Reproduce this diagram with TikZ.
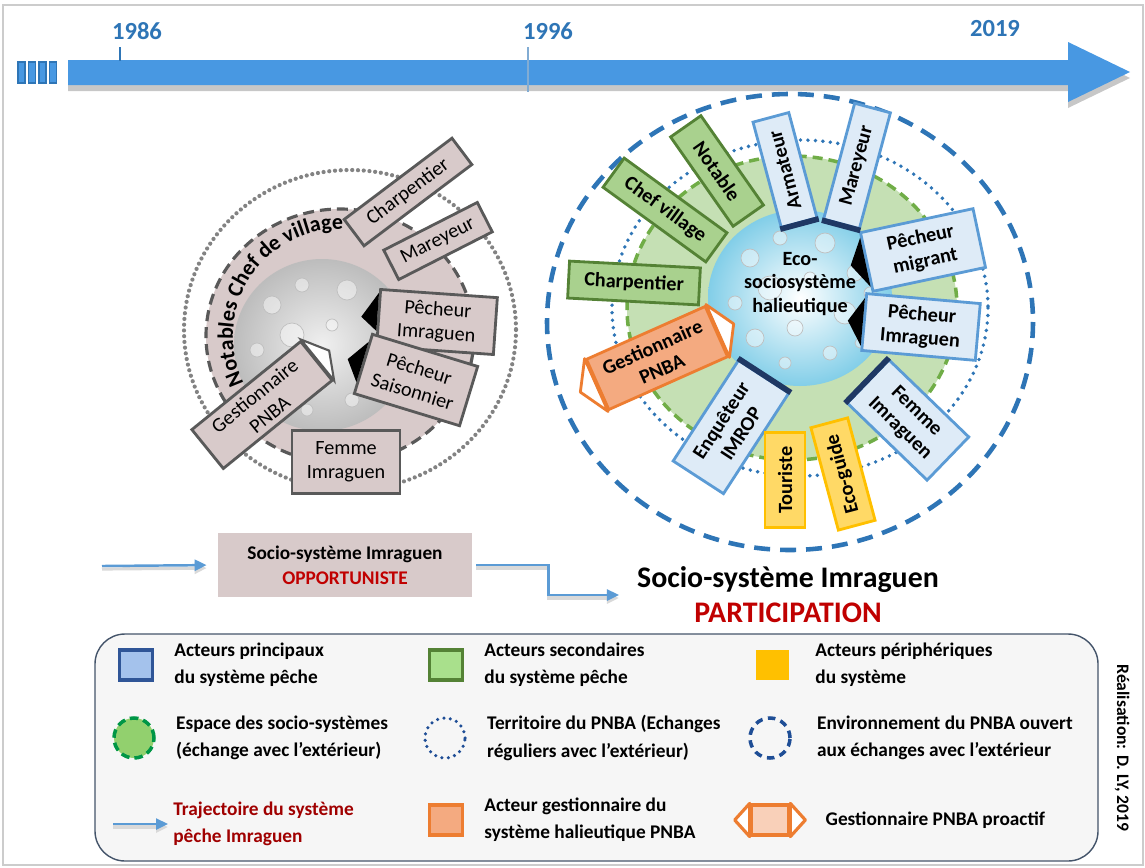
\documentclass[tikz,border=0pt]{standalone}
\usepackage{fontspec}
\setmainfont{Carlito}
\usetikzlibrary{positioning,arrows.meta,calc,decorations.text}

\definecolor{tlblue}{RGB}{72,152,226}
\definecolor{yearblue}{RGB}{46,117,182}
\definecolor{rosegray}{RGB}{216,202,202}
\definecolor{boxgray}{RGB}{89,89,89}
\definecolor{mainfill}{RGB}{222,235,247}
\definecolor{mainblue}{RGB}{91,155,213}
\definecolor{navy}{RGB}{31,56,100}
\definecolor{secfill}{RGB}{169,209,142}
\definecolor{secgreen}{RGB}{84,130,53}
\definecolor{perifill}{RGB}{255,217,102}
\definecolor{perigold}{RGB}{255,192,0}
\definecolor{orfill}{RGB}{244,170,128}
\definecolor{orline}{RGB}{237,125,49}
\definecolor{espfill}{RGB}{197,224,180}
\definecolor{espline}{RGB}{112,173,71}
\definecolor{pnbablue}{RGB}{46,117,182}
\definecolor{darkred}{RGB}{192,0,0}
\definecolor{trajred}{RGB}{160,0,0}
\definecolor{trajblue}{RGB}{91,155,213}
\definecolor{legfill}{RGB}{246,246,246}
\definecolor{legline}{RGB}{68,84,106}
\definecolor{legblue}{RGB}{47,85,151}
\definecolor{legbluefill}{RGB}{164,194,236}
\definecolor{leggreen}{RGB}{84,130,53}
\definecolor{leggreenfill}{RGB}{169,224,140}
\definecolor{legdash}{RGB}{0,150,70}
\definecolor{legdashfill}{RGB}{146,208,110}
\definecolor{legdark}{RGB}{31,78,150}
\definecolor{ecofill}{RGB}{130,206,232}

\newcommand\actorfont{\fontsize{11.5}{13.5}\selectfont}
\newcommand\legfont{\fontsize{11}{15.5}\selectfont\bfseries}

\begin{document}
\begin{tikzpicture}[x=0.2mm, y=-0.2mm,
  actor/.style={line width=1.6pt, minimum height=7.4mm, inner sep=1.5pt,
    align=center, font=\actorfont\bfseries},
  oldbox/.style={actor, draw=boxgray, fill=rosegray, font=\actorfont},
  mainbox/.style={actor, draw=mainblue, fill=mainfill},
  secbox/.style={actor, draw=secgreen, fill=secfill},
  peribox/.style={actor, draw=perigold, fill=perifill},
  gestbox/.style={actor, draw=orline, fill=orfill},
  navybar/.style={draw=navy, line width=3.2pt},
  notch/.style={fill=black},
  year/.style={font=\fontsize{14}{16}\selectfont\bfseries, text=yearblue},
  traj/.style={draw=trajblue, line width=1.4pt, -{Triangle[length=2.4mm,width=2.2mm]},
    preaction={draw=black!15, line width=1.8pt, transform canvas={yshift=-0.6mm}}},
  legtext/.style={align=left, font=\legfont, inner sep=0pt},
  legicon/.style={minimum width=6.6mm, minimum height=6mm, inner sep=0pt, line width=1.8pt}]

  \useasboundingbox (0,0) rectangle (1145,867);
  \draw[black!20, line width=0.8pt] (3,5) rectangle (1143,865);

  % time line
  \fill[black!22] (68,66) -- (1068,66) -- (1068,48) -- (1130,78) -- (1068,108)
    -- (1068,91) -- (68,91) -- cycle;
  \fill[tlblue] (68,60) -- (1068,60) -- (1068,42) -- (1130,72) -- (1068,102)
    -- (1068,85) -- (68,85) -- cycle;
  \foreach \i in {0,...,3}
    \draw[line width=0.6pt, draw=yearblue, fill=tlblue] (18+10.5*\i,62) rectangle ++(7,21);
  \node[year] (y1986) at (137,31) {1986};
  \node[year] (y1996) at (548,31) {1996};
  \node[year] (y2019) at (995,29) {2019};
  \draw[yearblue, line width=0.8pt] (120,47) -- (120,61);
  \draw[yearblue!60, line width=0.8pt] (528,47) -- (528,92);

  % socio-systeme opportuniste
  \coordinate (lc) at (340,336);
  \draw[boxgray!75, line width=2.4pt, dash pattern=on 0pt off 1.15mm, line cap=round]
    (350,330) ellipse[x radius=166, y radius=160];
  \draw[boxgray, fill=rosegray, line width=1.8pt, dash pattern=on 2.2mm off 1.2mm]
    (lc) ellipse[x radius=134, y radius=127];
  \shade[inner color=black!6, outer color=black!26] (322,345) ellipse[x radius=88, y radius=86];
  \path[decorate, decoration={text along path,
      text={|\fontsize{12.5}{12.5}\selectfont\bfseries|Notables Chef de village}}]
    (lc) ++(154:107) arc[start angle=154, end angle=292, radius=107];

  % socio-systeme participation
  \draw[pnbablue, line width=2.6pt, dash pattern=on 3.2mm off 2mm]
    (790,322) ellipse[x radius=243, y radius=228];
  \draw[pnbablue, line width=2.2pt, dash pattern=on 0pt off 1.5mm, line cap=round]
    (800,308) ellipse[x radius=188, y radius=168];
  \draw[espline, fill=espfill, line width=2pt, dash pattern=on 2mm off 1.2mm]
    (792,308) ellipse[x radius=165, y radius=152];
  \shade[inner color=white, outer color=ecofill] (800,298) ellipse[x radius=92, y radius=88];

  % bubbles
  \foreach \cx/\cy in {322/345, 800/298}
    \foreach \dx/\dy/\r in {-50/-40/9, -20/-60/7, 25/-55/10, 55/-25/8, -65/5/7, -30/-10/12,
        10/-20/6, 45/15/11, -45/40/9, -5/30/8, 30/55/7, 60/45/5, -15/65/6, 70/-5/6}
      \draw[black!25, fill=white, fill opacity=0.45, line width=0.4pt]
        ($(\cx,\cy)+(\dx,\dy)$) circle[radius=\r];
  \node[font=\actorfont\bfseries, align=center] (eco) at (800,284) {Eco-\\sociosystème\\halieutique};

  % acteurs 1986
  \node[oldbox, rotate=37, minimum width=27mm, minimum height=6.6mm] (oCharp) at (408,192) {Charpentier};
  \node[oldbox, rotate=27, minimum width=21mm, minimum height=6.6mm] (oMarey) at (438,241) {Mareyeur};
  \node[oldbox, rotate=-4, minimum width=23.4mm, minimum height=11.4mm] (oImrag) at (437,322) {Pêcheur\\Imraguen};
  \node[oldbox, rotate=-17, minimum width=22mm, minimum height=12.4mm] (oSaison) at (416,380) {Pêcheur\\Saisonnier};
  \node[oldbox, minimum width=21.6mm, minimum height=12.6mm] (oFemme) at (346,462) {Femme\\Imraguen};
  \node[oldbox, rotate=39, minimum width=28mm, minimum height=10mm] (oGest) at (262,405) {Gestionnaire\\PNBA};
  \fill[notch] ($(oImrag.north west)!0.08!(oImrag.south west)$) -- ($(oImrag.west)!-3.2mm!(oImrag.east)$)
    -- ($(oImrag.north west)!0.72!(oImrag.south west)$) -- cycle;
  \fill[notch] ($(oSaison.north west)!0.15!(oSaison.south west)$) -- ($(oSaison.west)!-3mm!(oSaison.east)$)
    -- ($(oSaison.north west)!0.8!(oSaison.south west)$) -- cycle;
  \draw[boxgray, line width=1.2pt, fill=white] (oGest.north east)
    -- ($(oGest.east)!-3mm!(oGest.west)$) -- (oGest.south east) -- cycle;

  % acteurs 2019
  \node[secbox, rotate=-55, minimum width=21.8mm] (rNotab) at (717,171) {Notable};
  \node[secbox, rotate=-36, minimum width=25.4mm, minimum height=7.2mm] (rChef) at (665,210) {Chef village};
  \node[secbox, rotate=-3, minimum width=26.2mm] (rCharp) at (634,283) {Charpentier};
  \node[mainbox, rotate=105, minimum width=21.8mm] (rArmat) at (785,170) {Armateur};
  \node[mainbox, rotate=75, minimum width=24mm] (rMarey) at (857,166) {Mareyeur};
  \node[mainbox, rotate=12, minimum width=23mm, minimum height=12mm] (rMigr) at (923,250) {Pêcheur\\migrant};
  \node[mainbox, rotate=-5, minimum width=22.8mm, minimum height=11.4mm] (rImrag) at (921,327) {Pêcheur\\Imraguen};
  \node[mainbox, rotate=-44, minimum width=22.2mm, minimum height=12mm] (rFemme) at (908,420) {Femme\\Imraguen};
  \node[mainbox, rotate=57, minimum width=24mm, minimum height=12mm] (rEnq) at (731,427) {Enquêteur\\IMROP};
  \node[peribox, rotate=90, minimum width=19mm, minimum height=8mm] (rTour) at (785,480) {Touriste};
  \node[peribox, rotate=105, minimum width=21.2mm, minimum height=7.6mm] (rGuide) at (843,474) {Eco-guide};
  \node[gestbox, rotate=24, minimum width=26mm, minimum height=11mm] (rGest) at (657,358) {Gestionnaire\\PNBA};
  \draw[navybar] (rArmat.south west) -- (rArmat.north west);
  \draw[navybar] (rMarey.south west) -- (rMarey.north west);
  \draw[navybar] (rFemme.south west) -- (rFemme.north west);
  \draw[navybar] (rEnq.south east) -- (rEnq.north east);
  \fill[notch] ($(rMigr.north west)!0.1!(rMigr.south west)$) -- ($(rMigr.west)!-3mm!(rMigr.east)$)
    -- ($(rMigr.north west)!0.9!(rMigr.south west)$) -- cycle;
  \fill[notch] ($(rImrag.north west)!0.1!(rImrag.south west)$) -- ($(rImrag.west)!-3mm!(rImrag.east)$)
    -- ($(rImrag.north west)!0.9!(rImrag.south west)$) -- cycle;
  \draw[orline, line width=1.6pt, fill=white, line join=round] (rGest.north east)
    -- ($(rGest.east)!-3.5mm!(rGest.west)$) -- (rGest.south east) -- cycle;
  \draw[orline, line width=1.6pt, fill=white, line join=round] (rGest.north west)
    -- ($(rGest.west)!-3.5mm!(rGest.east)$) -- (rGest.south west) -- cycle;

  % trajectoire
  \coordinate (trajStart) at (102,566);
  \node[fill=rosegray, minimum width=50.8mm, minimum height=12.8mm, align=center,
    font=\fontsize{11}{14}\selectfont\bfseries] (opp) at (345,565)
    {Socio-système Imraguen\\\textcolor{darkred}{OPPORTUNISTE}};
  \draw[traj, shorten >=2.2mm] (trajStart) -- (opp.west);
  \node[align=center, font=\fontsize{17}{20}\selectfont\bfseries] (partic) at (788,595)
    {Socio-système Imraguen\\\textcolor{darkred}{PARTICIPATION}};
  \draw[traj, shorten <=0.8mm, shorten >=2.4mm] (opp.east) -- ++(76,0) |- (partic.west);

  % legende
  \draw[legline, fill=legfill, line width=0.8pt, rounded corners=6mm] (95,634) rectangle (1098,861);
  \node[legicon, draw=legblue, fill=legbluefill] (icMain) at (136,665) {};
  \node[legtext, right=4mm of icMain] (lgMain) {Acteurs principaux\\du système pêche};
  \node[legicon, draw=leggreen, fill=leggreenfill] (icSec) at (446,665) {};
  \node[legtext, right=4mm of icSec] (lgSec) {Acteurs secondaires\\du système pêche};
  \node[legicon, fill=perigold] (icPeri) at (772,665) {};
  \node[legtext, right=5mm of icPeri] (lgPeri) {Acteurs périphériques\\du système};
  \node[circle, minimum size=8mm, inner sep=0pt, draw=legdash, fill=legdashfill, line width=2pt,
    dash pattern=on 1.7mm off 1mm] (icEsp) at (134,738) {};
  \node[legtext, right=4mm of icEsp] (lgEsp) {Espace des socio-systèmes\\(échange avec l’extérieur)};
  \node[circle, minimum size=8mm, inner sep=0pt, draw=legdark, line width=2pt,
    dash pattern=on 0pt off 1.3mm, line cap=round] (icTerr) at (445,738) {};
  \node[legtext, right=4mm of icTerr] (lgTerr) {Territoire du PNBA (Echanges\\réguliers avec l’extérieur)};
  \node[circle, minimum size=8mm, inner sep=0pt, draw=legdark, line width=2pt,
    dash pattern=on 1.5mm off 1.1mm] (icEnv) at (770,738) {};
  \node[legtext, right=5mm of icEnv] (lgEnv) {Environnement du PNBA ouvert\\aux échanges avec l’extérieur};
  \coordinate (icTrajA) at (113,824);
  \coordinate (icTrajB) at (168,824);
  \draw[traj] (icTrajA) -- (icTrajB);
  \node[legtext, text=trajred, right=1mm of icTrajB] (lgTraj) {Trajectoire du système\\pêche Imraguen};
  \node[legicon, draw=orline, fill=orfill] (icGest) at (446,820) {};
  \node[legtext, right=4mm of icGest] (lgGest) {Acteur gestionnaire du\\système halieutique PNBA};
  \node[legicon, draw=orline, fill=orfill!55, minimum width=7.5mm] (icPro) at (770,820) {};
  \draw[orline, line width=1.8pt, fill=white, line join=round] (icPro.north west)
    -- ($(icPro.west)+(-3mm,0)$) -- (icPro.south west) -- cycle;
  \draw[orline, line width=1.8pt, fill=white, line join=round] (icPro.north east)
    -- ($(icPro.east)+(3mm,0)$) -- (icPro.south east) -- cycle;
  \node[legtext, right=7mm of icPro] (lgPro) {Gestionnaire PNBA proactif};
  \node[rotate=-90, font=\fontsize{10}{12}\selectfont\bfseries] (credit) at (1122,748) {Réalisation: D. LY, 2019};
\end{tikzpicture}
\end{document}
